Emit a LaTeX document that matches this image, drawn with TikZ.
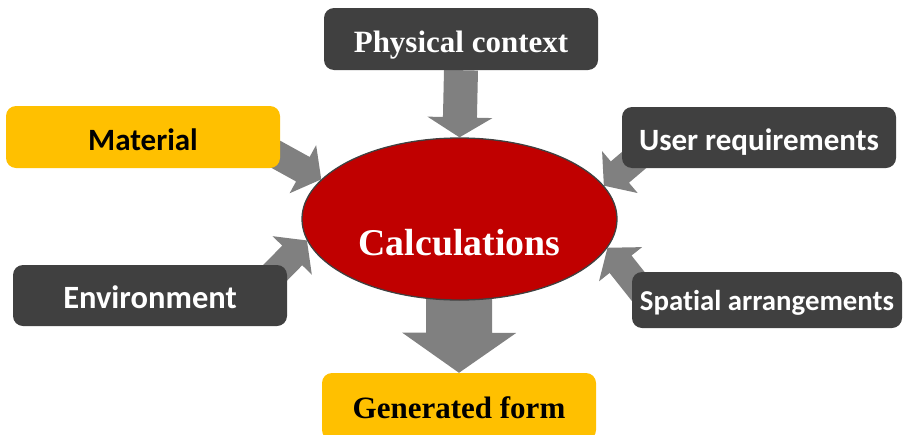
\documentclass[tikz,border=0pt]{standalone}
\usepackage{fontspec}
\setmainfont{Liberation Serif}
\newfontfamily\labelsans[Ligatures=NoCommon]{Carlito}
\usetikzlibrary{calc,shapes.geometric,backgrounds}

\definecolor{boxgray}{HTML}{404040}
\definecolor{amber}{HTML}{FFC000}
\definecolor{corered}{HTML}{C00000}
\definecolor{arrowgray}{HTML}{808080}

\tikzset{
  box/.style={rounded corners=10pt, minimum width=274pt, minimum height=62pt,
    inner sep=0pt, text height=26pt, text depth=0pt,
    font=\bfseries\fontsize{31}{36}\selectfont},
  darkbox/.style={box, fill=boxgray, text=white},
  amberbox/.style={box, fill=amber, text=black},
  sanslabel/.style={font=\labelsans\bfseries\fontsize{31}{36}\selectfont},
  % filled block arrow: #1 half shaft width, #2 half head width, #3 head length
  blockarrow/.style n args={3}{to path={
     -- ($(\tikztostart)!#1!90:(\tikztotarget)$)
     -- ($($(\tikztotarget)!#3!(\tikztostart)$)!#1!90:(\tikztotarget)$)
     -- ($($(\tikztotarget)!#3!(\tikztostart)$)!#2!90:(\tikztotarget)$)
     -- (\tikztotarget)
     -- ($($(\tikztotarget)!#3!(\tikztostart)$)!#2!-90:(\tikztotarget)$)
     -- ($($(\tikztotarget)!#3!(\tikztostart)$)!#1!-90:(\tikztotarget)$)
     -- ($(\tikztostart)!#1!-90:(\tikztotarget)$)
     -- cycle}},
  feed/.style={fill=arrowgray},
}

\begin{document}
\begin{tikzpicture}[x=1pt, y=-1pt]
\useasboundingbox (0,0) rectangle (905,434);

% central ellipse
\node[ellipse, minimum width=315pt, minimum height=162pt, inner sep=0pt,
      fill=corered, draw=boxgray, line width=1.3pt] (core) at (459.5,219) {};
\node[anchor=base, text=white, font=\bfseries\fontsize{37.8}{42}\selectfont]
      (corelabel) at (459.5,255) {Calculations};

% input and output boxes
\node[darkbox] (pc) at (461,39) {Physical context};
\node[amberbox, sanslabel] (mat) at (143,137) {Material};
\node[darkbox, sanslabel, minimum height=61pt, text height=25pt] (user) at (759,137.5) {User requirements};
\node[darkbox, minimum height=61pt, text height=25pt,
      font=\labelsans\bfseries\fontsize{32.5}{38}\selectfont] (env) at (150,295.5) {Environment};
\node[darkbox, minimum width=270pt, minimum height=56pt, text height=20pt,
      font=\labelsans\bfseries\fontsize{28.8}{33}\selectfont] (spat) at (767,300) {Spatial arrangements};
\node[amberbox, minimum height=67pt, text height=23pt] (gen) at (459,406.5) {Generated form};

% shaft starts hidden behind the boxes
\coordinate (matS)  at ($(mat.center)+(108,3.6)$);
\coordinate (envS)  at ($(env.center)+(99.7,3.3)$);
\coordinate (userS) at ($(user.center)+(-97.6,-0.7)$);
\coordinate (spatS) at ($(spat.center)+(-112.5,7)$);

\begin{pgfonlayer}{background}
  \fill[feed] (pc.south) to[blockarrow={17pt}{32.5pt}{20pt}] (core.north);
  \fill[feed] (matS) to[blockarrow={14pt}{27.5pt}{21pt}] (core.164.4);
  \fill[feed] (envS) to[blockarrow={14pt}{27.5pt}{21pt}] (core.188.9);
  \fill[feed] (userS) to[blockarrow={14pt}{27.5pt}{21pt}] (core.13.2);
  \fill[feed] (spatS) to[blockarrow={14pt}{27.5pt}{21pt}] (core.349.9);
  \fill[feed] (core.center) to[blockarrow={33pt}{57pt}{40pt}] (gen.north);
\end{pgfonlayer}
\end{tikzpicture}
\end{document}
